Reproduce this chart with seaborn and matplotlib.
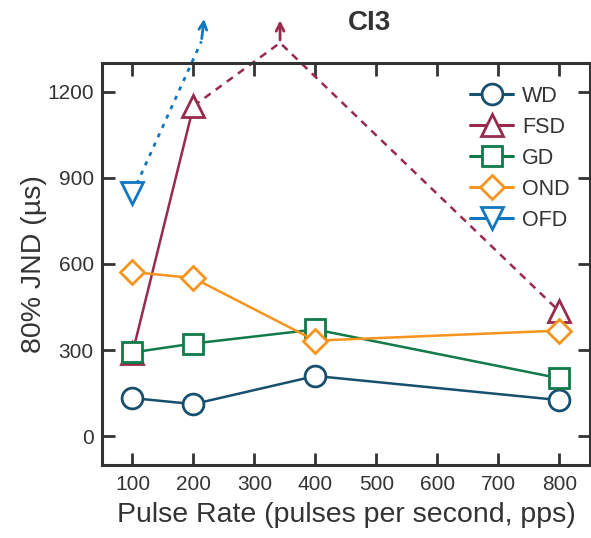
import numpy as np
import pandas as pd
import matplotlib
matplotlib.use("Agg")
import matplotlib.pyplot as plt
from matplotlib.lines import Line2D
import seaborn as sns

# ---- data ----
rates = [100, 200, 400, 800]
wd = [133, 112, 210, 126]
fsd = [290, 1150, np.nan, 435]
gd = [292, 323, 372, 202]
ond = [572, 551, 333, 368]
ofd = [846, np.nan, np.nan, np.nan]

# off-scale extrapolation (FSD peak above axis, OFD beyond axis)
fsd_off_x = [200, 342, 800]
fsd_off_y = [1150, 1370, 435]
fsd_arrow_x = [342, 342]
fsd_arrow_y = [1370, 1458]
ofd_off_x = [100, 213]
ofd_off_y = [846, 1375]
ofd_arrow_x = [213, 218]
ofd_arrow_y = [1375, 1463]

series = ["WD", "FSD", "GD", "OND", "OFD"]
values = [wd, fsd, gd, ond, ofd]
colors = {"WD": "#17506e", "FSD": "#982a4b", "GD": "#117a49", "OND": "#f7941d", "OFD": "#1177c0"}
markers = {"WD": "o", "FSD": "^", "GD": "s", "OND": "D", "OFD": "v"}
msizes = {"WD": 15, "FSD": 16, "GD": 14, "OND": 12, "OFD": 16}

sns.set_style("ticks")
plt.rcParams["font.family"] = ["Liberation Sans", "DejaVu Sans"]
dark = "#333333"

fig = plt.figure(figsize=(5.91, 5.38), dpi=100)
ax = fig.add_axes([0.1726, 0.1357, 0.8254, 0.7473])

# extrapolation lines (drawn first, beneath markers)
ax.plot(fsd_off_x, fsd_off_y, ls=(0, (3, 2.5)), color=colors["FSD"], lw=1.8, clip_on=False, zorder=2)
ax.plot(ofd_off_x, ofd_off_y, ls=(0, (1.5, 2.2)), color=colors["OFD"], lw=2.0, clip_on=False, zorder=2)
ax.annotate("", xy=(fsd_arrow_x[1], fsd_arrow_y[1]), xytext=(fsd_arrow_x[0], fsd_arrow_y[0]),
            arrowprops=dict(arrowstyle="->", color=colors["FSD"], lw=2.0, mutation_scale=14),
            annotation_clip=False)
ax.annotate("", xy=(ofd_arrow_x[1], ofd_arrow_y[1]), xytext=(ofd_arrow_x[0], ofd_arrow_y[0]),
            arrowprops=dict(arrowstyle="->", color=colors["OFD"], lw=2.0, mutation_scale=14),
            annotation_clip=False)

handles = []
for name, vals in zip(series, values):
    arr = np.array(vals, dtype=float)
    # segment id: breaks the line at missing values
    seg = np.cumsum(np.isnan(arr))
    df = pd.DataFrame({"rate": rates, "jnd": arr, "seg": seg}).dropna()
    sns.lineplot(data=df, x="rate", y="jnd", units="seg", estimator=None, ax=ax,
                 color=colors[name], lw=1.8,
                 marker=markers[name], markersize=msizes[name], markerfacecolor="white",
                 markeredgecolor=colors[name], markeredgewidth=2.0, zorder=3, legend=False)
    handles.append(Line2D([], [], color=colors[name], lw=2.2, marker=markers[name],
                          markersize=msizes[name], markerfacecolor="white",
                          markeredgecolor=colors[name], markeredgewidth=2.0, label=name))

ax.set_xlim(50, 850)
ax.set_ylim(-100, 1300)
ax.set_xticks([100, 200, 300, 400, 500, 600, 700, 800])
ax.set_yticks([0, 300, 600, 900, 1200])
ax.tick_params(direction="in", length=9, width=2, colors=dark, labelsize=15,
               top=True, right=True, pad=7)
ax.tick_params(axis="y", pad=6)
for s in ax.spines.values():
    s.set_linewidth(2.2)
    s.set_color(dark)
    s.set_visible(True)

ax.set_xlabel("Pulse Rate (pulses per second, pps)", fontsize=20.5, color=dark, labelpad=6)
ax.set_ylabel("80% JND (µs)", fontsize=20.5, color=dark, labelpad=0)
fig.text(0.626, 0.958, "CI3", fontsize=20, fontweight="bold", color=dark, ha="center", va="center")

leg = ax.legend(handles=handles, loc="upper right", bbox_to_anchor=(0.985, 0.975), frameon=False,
                fontsize=15.5, handlelength=2.0, labelspacing=0.46, handletextpad=0.4,
                borderaxespad=0.2)
for t in leg.get_texts():
    t.set_color(dark)

fig.savefig("out.png", dpi=100)
